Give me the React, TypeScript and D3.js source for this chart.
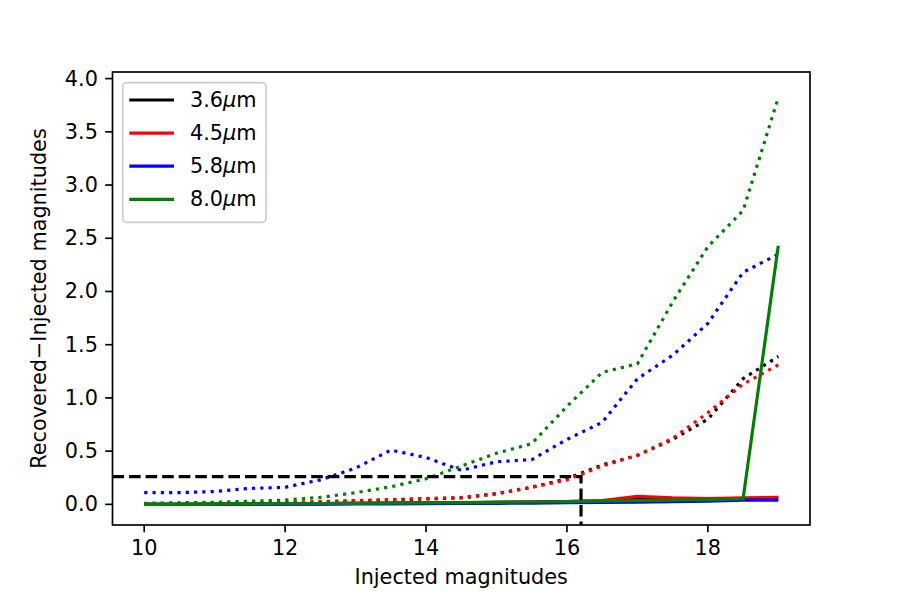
import React from "react";
import * as d3 from "d3";

// injected magnitudes (0.5 steps)
const mags = [10, 10.5, 11, 11.5, 12, 12.5, 13, 13.5, 14, 14.5, 15, 15.5, 16, 16.5, 17, 17.5, 18, 18.5, 19];

// solid lines (median-ish offsets)
const solid36 = [0, 0, 0.002, 0.004, 0.005, 0.007, 0.009, 0.011, 0.013, 0.015, 0.018, 0.021, 0.025, 0.03, 0.055, 0.045, 0.045, 0.05, 0.06];
const solid45 = [0, 0, 0.002, 0.004, 0.005, 0.007, 0.009, 0.011, 0.013, 0.016, 0.019, 0.022, 0.027, 0.035, 0.075, 0.06, 0.055, 0.06, 0.065];
const solid58 = [0, 0, 0, 0.001, 0.002, 0.003, 0.004, 0.005, 0.006, 0.008, 0.01, 0.012, 0.015, 0.018, 0.02, 0.025, 0.03, 0.04, 0.04];
const solid80 = [0, 0, 0.002, 0.004, 0.006, 0.008, 0.01, 0.012, 0.014, 0.016, 0.019, 0.022, 0.025, 0.03, 0.035, 0.04, 0.045, 0.05, 2.43];

// dotted lines
const dot36 = [0, 0.004, 0.008, 0.01, 0.014, 0.022, 0.032, 0.042, 0.05, 0.06, 0.1, 0.16, 0.24, 0.37, 0.46, 0.61, 0.8, 1.18, 1.39];
const dot45 = [0, 0.005, 0.009, 0.011, 0.015, 0.025, 0.035, 0.045, 0.055, 0.065, 0.1, 0.16, 0.23, 0.36, 0.46, 0.62, 0.86, 1.13, 1.31];
const dot58 = [0.11, 0.11, 0.12, 0.15, 0.16, 0.23, 0.34, 0.51, 0.44, 0.32, 0.4, 0.42, 0.61, 0.77, 1.18, 1.4, 1.7, 2.18, 2.35];
const dot80 = [0.01, 0.015, 0.02, 0.03, 0.04, 0.065, 0.11, 0.165, 0.24, 0.36, 0.48, 0.57, 0.92, 1.24, 1.32, 1.9, 2.42, 2.76, 3.82];

const bands = ["3.6", "4.5", "5.8", "8.0"];
const colors = ["#000000", "#ff0000", "#0000ff", "#008000"];
const solids = [solid36, solid45, solid58, solid80];
const dotted = [dot36, dot45, dot58, dot80];

// completeness limit marker
const limitMag = 16.2;
const limitOffset = 0.26;

const xTicks = [10, 12, 14, 16, 18];
const yTicks = [0, 0.5, 1, 1.5, 2, 2.5, 3, 3.5, 4];

const W = 900, H = 600;
const left = 112.5, right = 810, top = 72, bottom = 525;
const font = "DejaVu Sans";
const fs = 20.8;
const lw = 3.2;

export default function App() {
  const x = d3.scaleLinear().domain([9.55, 19.45]).range([left, right]);
  const y = d3.scaleLinear().domain([-0.194, 4.062]).range([bottom, top]);

  const line = d3.line<number>()
    .x((d, i) => x(mags[i]))
    .y((d) => y(d));

  return (
    <svg width={W} height={H} style={{ position: "absolute", left: 0, top: 0 }} fontFamily={font}>
      <rect width={W} height={H} fill="white" />
      <defs>
        <clipPath id="plot">
          <rect x={left} y={top} width={right - left} height={bottom - top} />
        </clipPath>
      </defs>

      <g clipPath="url(#plot)">
        {bands.map((b, k) => (
          <g key={b}>
            <path d={line(solids[k]) || ""} fill="none" stroke={colors[k]} strokeWidth={lw} />
            <path d={line(dotted[k]) || ""} fill="none" stroke={colors[k]} strokeWidth={lw} strokeDasharray="3.2 5.1" />
          </g>
        ))}
        <path
          d={`M${x(9.55)},${y(limitOffset)}H${x(limitMag)}V${y(-0.194)}`}
          fill="none" stroke="black" strokeWidth={lw} strokeDasharray="11.56 5"
        />
      </g>

      {/* axes frame */}
      <rect x={left} y={top} width={right - left} height={bottom - top} fill="none" stroke="black" strokeWidth={1.67} />

      {xTicks.map((t) => (
        <g key={t}>
          <line x1={x(t)} x2={x(t)} y1={bottom} y2={bottom + 7.3} stroke="black" strokeWidth={1.67} />
          <text x={x(t)} y={555} textAnchor="middle" fontSize={fs}>{t}</text>
        </g>
      ))}
      {yTicks.map((t) => (
        <g key={t}>
          <line x1={left - 7.3} x2={left} y1={y(t)} y2={y(t)} stroke="black" strokeWidth={1.67} />
          <text x={left - 14.6} y={y(t)} textAnchor="end" dominantBaseline="central" fontSize={fs}>{t.toFixed(1)}</text>
        </g>
      ))}

      <text x={(left + right) / 2} y={584} textAnchor="middle" fontSize={fs}>Injected magnitudes</text>
      <text transform={`translate(46,${(top + bottom) / 2}) rotate(-90)`} textAnchor="middle" fontSize={fs}>
        Recovered−Injected magnitudes
      </text>

      {/* legend */}
      <rect x={122.7} y={82.7} width={143.3} height={139.6} rx={4} fill="white" fillOpacity={0.8} stroke="#cccccc" strokeWidth={1.67} />
      {bands.map((b, k) => {
        const ly = 100 + k * 33.1;
        return (
          <g key={b}>
            <line x1={129.3} x2={174} y1={ly} y2={ly} stroke={colors[k]} strokeWidth={lw} />
            <text x={190} y={ly} dominantBaseline="central" fontSize={fs}>
              {b}<tspan fontStyle="italic">μ</tspan>m
            </text>
          </g>
        );
      })}
    </svg>
  );
}
